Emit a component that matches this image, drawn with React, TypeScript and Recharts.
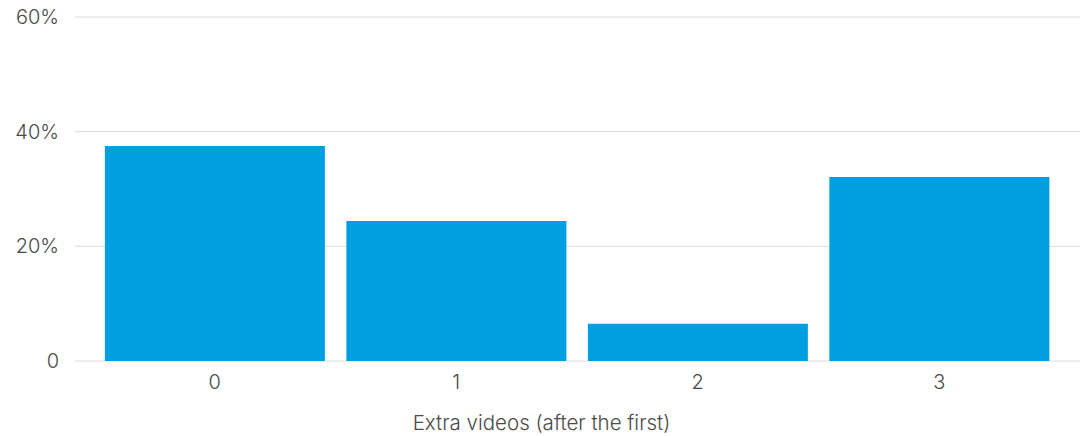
import React from 'react';
import { BarChart, Bar, XAxis, YAxis, CartesianGrid } from 'recharts';

const categories = ['0', '1', '2', '3'];
const shares = [37.5, 24.4, 6.5, 32.1];
const yTicks = [0, 20, 40, 60];

const data = categories.map((c, i) => ({ extra: c, share: shares[i] }));

const font = 'Inter, "Noto Sans", sans-serif';
const tickStyle = { fontSize: 20, fontWeight: 300, fill: '#4a4a4a', fontFamily: font };

const App: React.FC = () => {
  return (
    <div style={{ position: 'fixed', left: 0, top: 0, background: '#fff' }}>
      <BarChart
        width={1090}
        height={436}
        data={data}
        margin={{ top: 17, right: 10, left: 0, bottom: 6 }}
        barCategoryGap="4.5%"
      >
        <CartesianGrid vertical={false} stroke="#dcdcdc" />
        <XAxis
          dataKey="extra"
          axisLine={false}
          tickLine={false}
          tick={tickStyle}
          tickMargin={8}
          height={69}
          padding={{ left: 19, right: 20 }}
          label={{
            value: 'Extra videos (after the first)',
            position: 'insideBottom',
            offset: 0,
            dx: -36,
            style: { fontSize: 20.5, fontWeight: 300, fill: '#4a4a4a', fontFamily: font },
          }}
        />
        <YAxis
          domain={[0, 60]}
          ticks={yTicks}
          axisLine={false}
          tickLine={false}
          width={75}
          tickMargin={10}
          tick={tickStyle}
          tickFormatter={(v: number) => (v === 0 ? '0' : `${v}%`)}
        />
        <Bar dataKey="share" fill="#009fdf" isAnimationActive={false} />
      </BarChart>
    </div>
  );
};

export default App;
